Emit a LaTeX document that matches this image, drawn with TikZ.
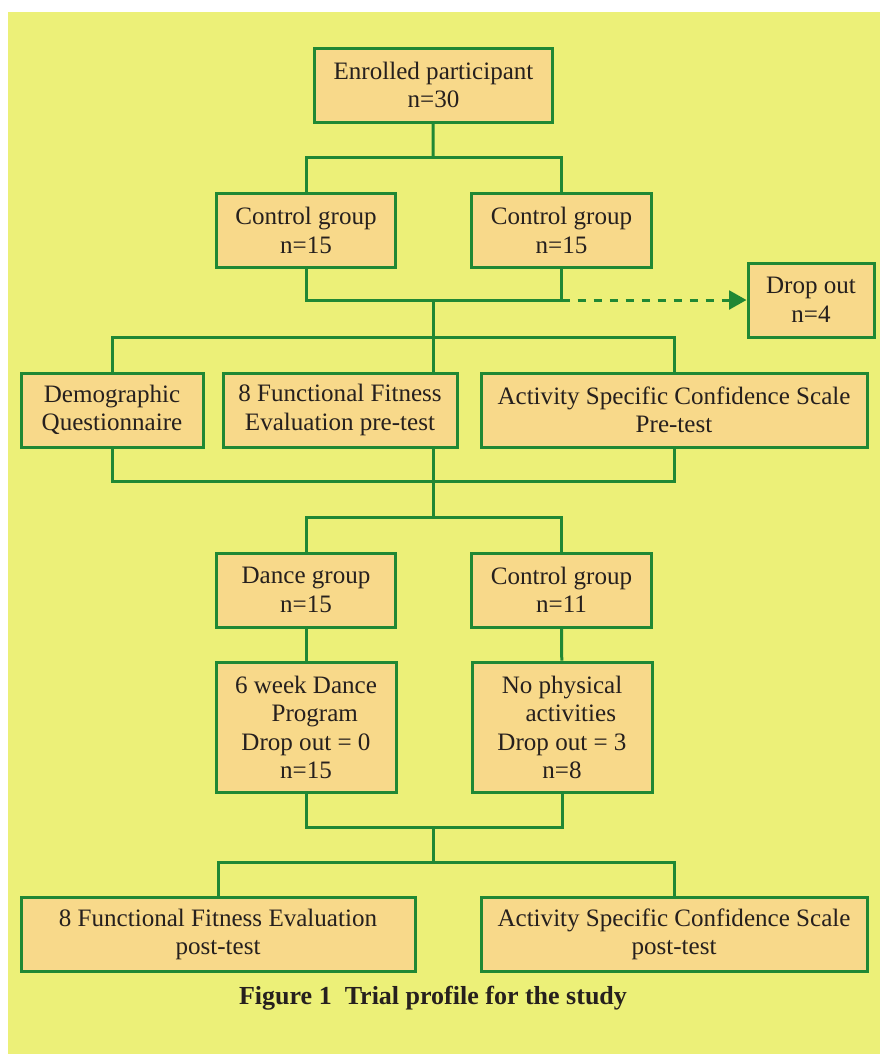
\documentclass[tikz,border=0pt]{standalone}
\usepackage{fontspec}
\setmainfont{Liberation Serif}
\usetikzlibrary{arrows.meta}
\definecolor{fond}{RGB}{236,240,120}
\definecolor{remplissage}{RGB}{248,217,138}
\definecolor{vert}{RGB}{32,136,52}
\definecolor{encre}{RGB}{38,32,30}
\begin{document}
\begin{tikzpicture}[x=0.75pt,y=-0.75pt]
			\tikzset{bloc/.style={draw=vert, line width=2.25pt, fill=remplissage, text=encre, align=center, inner sep=0pt, minimum height=55.5pt, font=\fontsize{18.8}{21.4}\selectfont}, trait/.style={draw=vert, line width=2.25pt}, fleche/.style={trait, dash pattern=on 6pt off 6pt, -{Triangle[length=13pt, width=14pt]}}};

			\useasboundingbox (0,0) rectangle (880,1054);
			\fill[fond] (8,12) rectangle (880,1054);

			\node[bloc, minimum width=179pt] (enr) at (433.5,  85) {Enrolled participant\\n=30};
			\node[bloc, minimum width=134pt] (cg1) at (  306, 230.5) {Control group\\n=15};
			\node[bloc, minimum width=135pt] (cg2) at (561.5, 230.5) {Control group\\n=15};
			\node[bloc, minimum width=94.5pt] (drop) at (811, 300) {Drop out\\n=4};

			\node[bloc, minimum width=136.5pt] (demo) at ( 112, 410) {Demographic\\Questionnaire};
			\node[bloc, minimum width=175.5pt] (ffe) at ( 340, 410) {8 Functional Fitness\\Evaluation pre-test};
			\node[bloc, minimum width=289.5pt] (acs) at ( 674, 410) {Activity Specific Confidence Scale\\Pre-test};

			\node[bloc, minimum width=134pt] (dance) at ( 306, 590) {Dance group\\n=15};
			\node[bloc, minimum width=135pt] (cg3) at (561.5, 590) {Control group\\n=11};
			\node[bloc, minimum width=135pt, minimum height=98pt] (prog) at ( 306, 727.5) {6 week Dance\\\hspace*{0.7em}Program\\Drop out = 0\\n=15};
			\node[bloc, minimum width=135pt, minimum height=98pt] (nophys) at ( 562, 727.5) {No physical\\\hspace*{0.7em}activities\\Drop out = 3\\n=8};

			\node[bloc, minimum width=295.5pt] (ffpost) at ( 218, 934.5) {8 Functional Fitness Evaluation\\post-test};
			\node[bloc, minimum width=289.5pt] (acspost) at ( 674, 934.5) {Activity Specific Confidence Scale\\post-test};

			\node[text=encre, font=\bfseries\fontsize{19.5}{22}\selectfont] (titre) at (433, 998) {Figure 1\ \ Trial profile for the study};

			\coordinate (j1) at (433, 157);
			\coordinate (j2) at (433, 300);
			\coordinate (j3) at (433, 337);
			\coordinate (j4) at (433, 481);
			\coordinate (j5) at (433, 517);
			\coordinate (j6) at (433, 827);
			\coordinate (j7) at (433, 862);

			\draw[trait] (enr) -- (j1);
			\draw[trait] (cg1.north) |- (j1) -| (cg2.north);
			\draw[trait] (cg1.south) |- (j2) -| (cg2.south);
			\draw[fleche] (cg2.south |- j2) -- (drop.west);
			\draw[trait] (j2) -- (j3);
			\draw[trait] (demo.north) |- (j3) -| (acs.north);
			\draw[trait] (j3) -- (ffe.north -| j3);
			\draw[trait] (demo.south) |- (j4) -| (acs.south);
			\draw[trait] (ffe.south -| j4) -- (j4);
			\draw[trait] (j4) -- (j5);
			\draw[trait] (dance.north) |- (j5) -| (cg3.north);
			\draw[trait] (dance) -- (prog);
			\draw[trait] (cg3) -- (nophys);
			\draw[trait] (prog.south) |- (j6) -| (nophys.south);
			\draw[trait] (j6) -- (j7);
			\draw[trait] (ffpost.north) |- (j7) -| (acspost.north);

		\end{tikzpicture}
\end{document}
